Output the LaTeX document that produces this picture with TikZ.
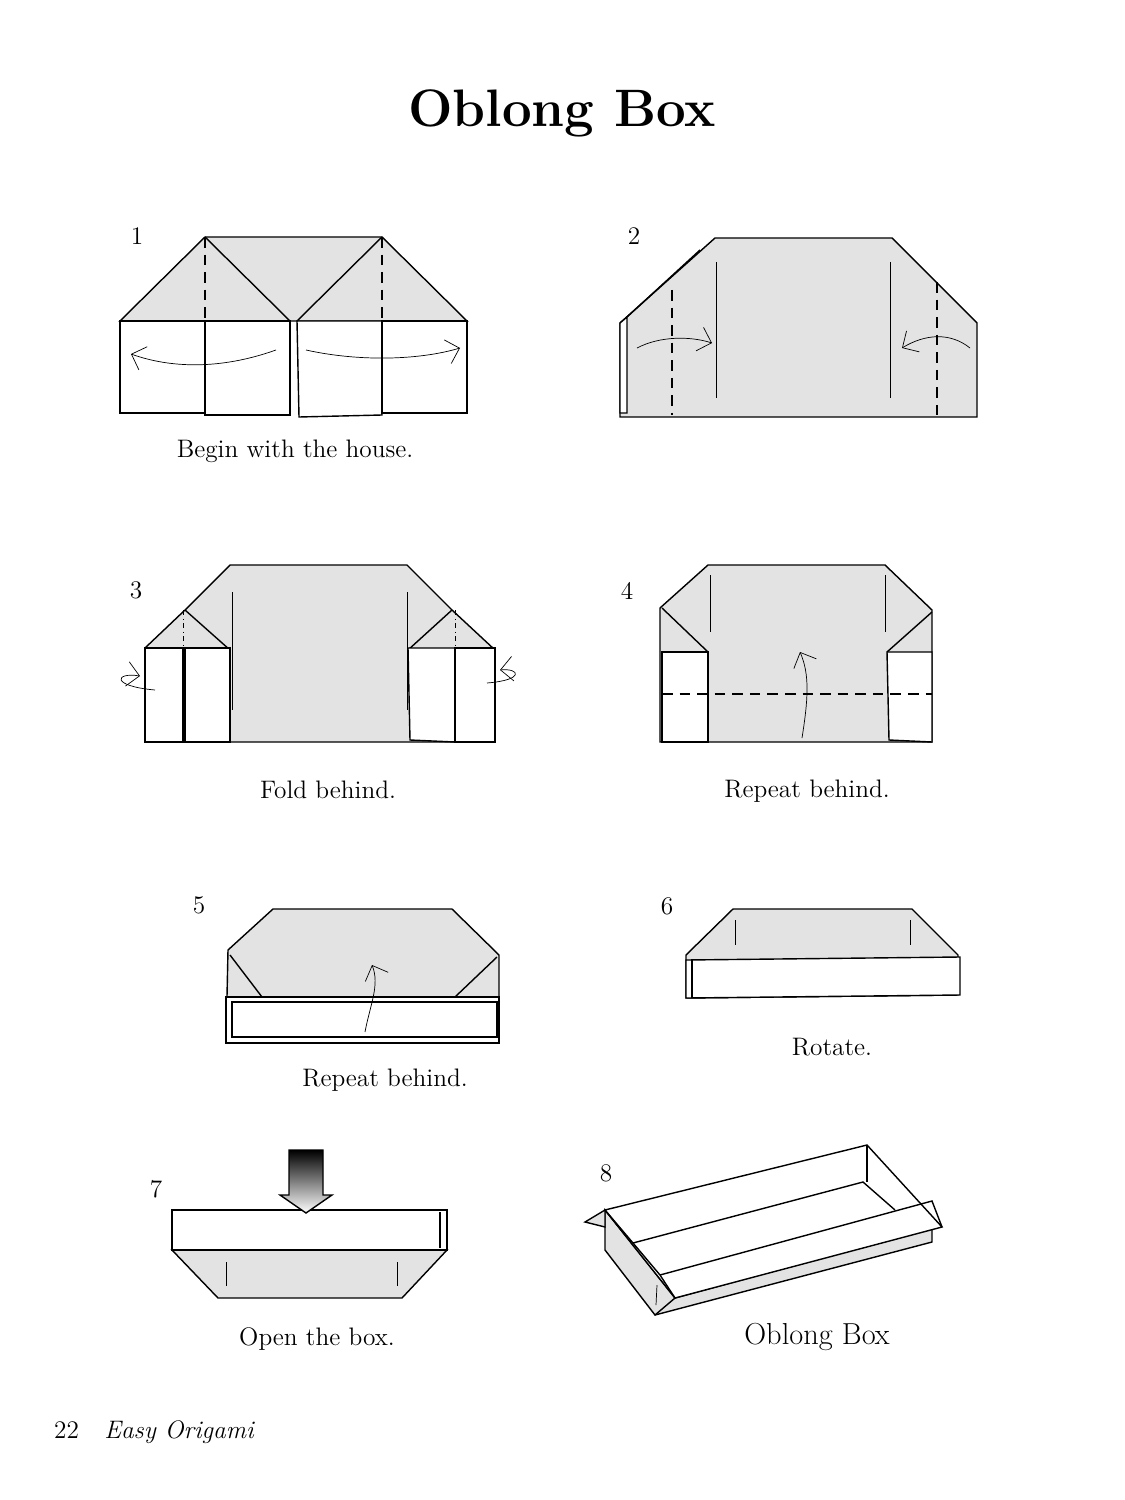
\documentclass[tikz,border=0pt]{standalone}
\usetikzlibrary{arrows.meta}
\tikzset{
  paper/.style={draw, thick, fill=gray!22},
  flap/.style={draw, thick, fill=white},
  valley/.style={thick, dash pattern=on 6pt off 4pt},
  crease/.style={thin},
  move/.style={thin, -{Straight Barb[length=7pt]}},
  caption/.style={font=\Large},
  stepno/.style={font=\Large}
}
\begin{document}
\begin{tikzpicture}[x=0.02cm, y=-0.02cm]
\useasboundingbox (0,0) rectangle (1125,1500);

\node (title) at (562,113) {\fontsize{30}{34}\selectfont\bfseries Oblong Box};

% step 1
\node[stepno] (n1) at (137,236) {1};
\draw[paper] (120,321) -- (205,237) -- (382,237) -- (467,321) -- cycle;
\draw[thick] (205,237) -- (290,321);
\draw[thick] (382,237) -- (297,321);
\draw[flap] (120,321) rectangle (205,413);
\draw[flap] (205,321) rectangle (290,415);
\draw[flap] (297,321) -- (382,321) -- (382,415) -- (299,417) -- cycle;
\draw[flap] (382,321) rectangle (467,413);
\draw[valley] (205,237) -- (205,321);
\draw[valley] (382,237) -- (382,321);
\draw[move] (276,350) .. controls (220,370) and (170,368) .. (131,354);
\draw[move] (306,350) .. controls (360,362) and (420,360) .. (460,348);
\node[caption] (c1) at (295,451) {Begin with the house.};

% step 2
\node[stepno] (n2) at (634,236) {2};
\draw[paper] (620,323) -- (715,238) -- (892,238) -- (977,323) -- (977,417) -- (620,417) -- cycle;
\draw[flap] (620,323) -- (627,317) -- (627,413) -- (620,413) -- cycle;
\draw[thick] (627,317) -- (700,250);
\draw[valley] (672,290) -- (672,415);
\draw[valley] (937,282) -- (937,415);
\draw[crease] (716,262) -- (716,398);
\draw[crease] (890,262) -- (890,398);
\draw[move] (637,348) .. controls (660,336) and (690,336) .. (712,343);
\draw[move] (970,348) .. controls (950,332) and (925,334) .. (902,348);

% step 3
\node[stepno] (n3) at (136,590) {3};
\draw[paper] (145,648) -- (185,610) -- (230,565) -- (407,565) -- (452,610) -- (495,650) -- (495,742) -- (145,742) -- cycle;
\draw[thick] (185,610) -- (230,650);
\draw[thick] (452,610) -- (408,650);
\draw[flap] (145,648) rectangle (183,742);
\draw[flap] (185,648) rectangle (230,742);
\draw[flap] (408,648) -- (455,648) -- (455,742) -- (410,740) -- cycle;
\draw[flap] (455,648) rectangle (495,742);
\draw[thin, dash dot] (183,610) -- (183,742);
\draw[thin, dash dot] (455,610) -- (455,742);
\draw[crease] (232,592) -- (232,710);
\draw[crease] (407,592) -- (407,710);
\draw[move] (155,690) .. controls (110,686) and (115,672) .. (140,676);
\draw[move] (487,683) .. controls (525,680) and (520,668) .. (500,670);
\node[caption] (c3) at (328,790) {Fold behind.};

% step 4
\node[stepno] (n4) at (627,591) {4};
\draw[paper] (660,608) -- (708,565) -- (885,565) -- (932,610) -- (932,742) -- (660,742) -- cycle;
\draw[thick] (662,608) -- (708,652);
\draw[thick] (932,612) -- (887,652);
\draw[flap] (662,652) rectangle (708,742);
\draw[flap] (887,652) -- (932,652) -- (932,742) -- (889,740) -- cycle;
\draw[valley] (662,694) -- (932,694);
\draw[crease] (710,575) -- (710,632);
\draw[crease] (885,575) -- (885,632);
\draw[move] (802,738) .. controls (808,700) and (810,675) .. (800,652);
\node[caption] (c4) at (807,791) {Repeat behind.};

% step 5
\node[stepno] (n5) at (199,905) {5};
\draw[paper] (228,950) -- (273,909) -- (452,909) -- (499,955) -- (499,1043) -- (226,1043) -- cycle;
\draw[thick] (230,955) -- (262,997);
\draw[thick] (497,957) -- (455,997);
\draw[flap] (226,997) rectangle (499,1043);
\draw[flap] (232,1002) rectangle (497,1037);
\draw[valley] (236,997) -- (495,997);
\draw[move] (365,1032) .. controls (370,1005) and (380,985) .. (372,965);
\node[caption] (c5) at (385,1080) {Repeat behind.};

% step 6
\node[stepno] (n6) at (667,906) {6};
\draw[paper] (686,955) -- (733,909) -- (912,909) -- (958,955) -- (958,995) -- (686,998) -- cycle;
\draw[crease] (735,920) -- (735,945);
\draw[crease] (910,920) -- (910,945);
\draw[flap] (686,960) -- (960,957) -- (960,995) -- (686,998) -- cycle;
\draw[thick] (692,960) -- (692,998);
\node[caption] (c6) at (832,1047) {Rotate.};

% step 7
\node[stepno] (n7) at (156,1189) {7};
\draw[paper] (172,1250) -- (447,1250) -- (402,1298) -- (218,1298) -- cycle;
\draw[crease] (226,1262) -- (226,1286);
\draw[crease] (397,1262) -- (397,1286);
\draw[flap] (172,1210) rectangle (447,1250);
\draw[thick] (440,1212) -- (440,1248);
\shade[top color=black, bottom color=white, draw, thick]
  (289,1150) -- (323,1150) -- (323,1195) -- (332,1195) -- (306,1213) -- (280,1195) -- (289,1195) -- cycle;
\node[caption] (c7) at (317,1339) {Open the box.};

% step 8
\node[stepno] (n8) at (606,1173) {8};
\draw[paper] (605,1210) -- (605,1250) -- (655,1315) -- (932,1242) -- (932,1228) -- (675,1298) -- cycle;
\draw[paper] (585,1222) -- (605,1210) -- (605,1227) -- cycle;
\draw[flap] (605,1210) -- (867,1145) -- (942,1227) -- (675,1298) -- cycle;
\draw[thick] (605,1210) -- (633,1243) -- (863,1182) -- (895,1210);
\draw[thick] (867,1145) -- (867,1182);
\draw[thick] (633,1243) -- (660,1275);
\draw[thick] (660,1275) -- (932,1201) -- (942,1227);
\draw[thick] (660,1275) -- (675,1298) -- (655,1315);
\draw[crease] (657,1285) -- (656,1305);
\node[font=\LARGE] (c8) at (817,1337) {Oblong Box};

% footer
\node[font=\Large, anchor=west] (pg) at (48,1432) {22\quad\itshape Easy Origami};
\end{tikzpicture}
\end{document}
